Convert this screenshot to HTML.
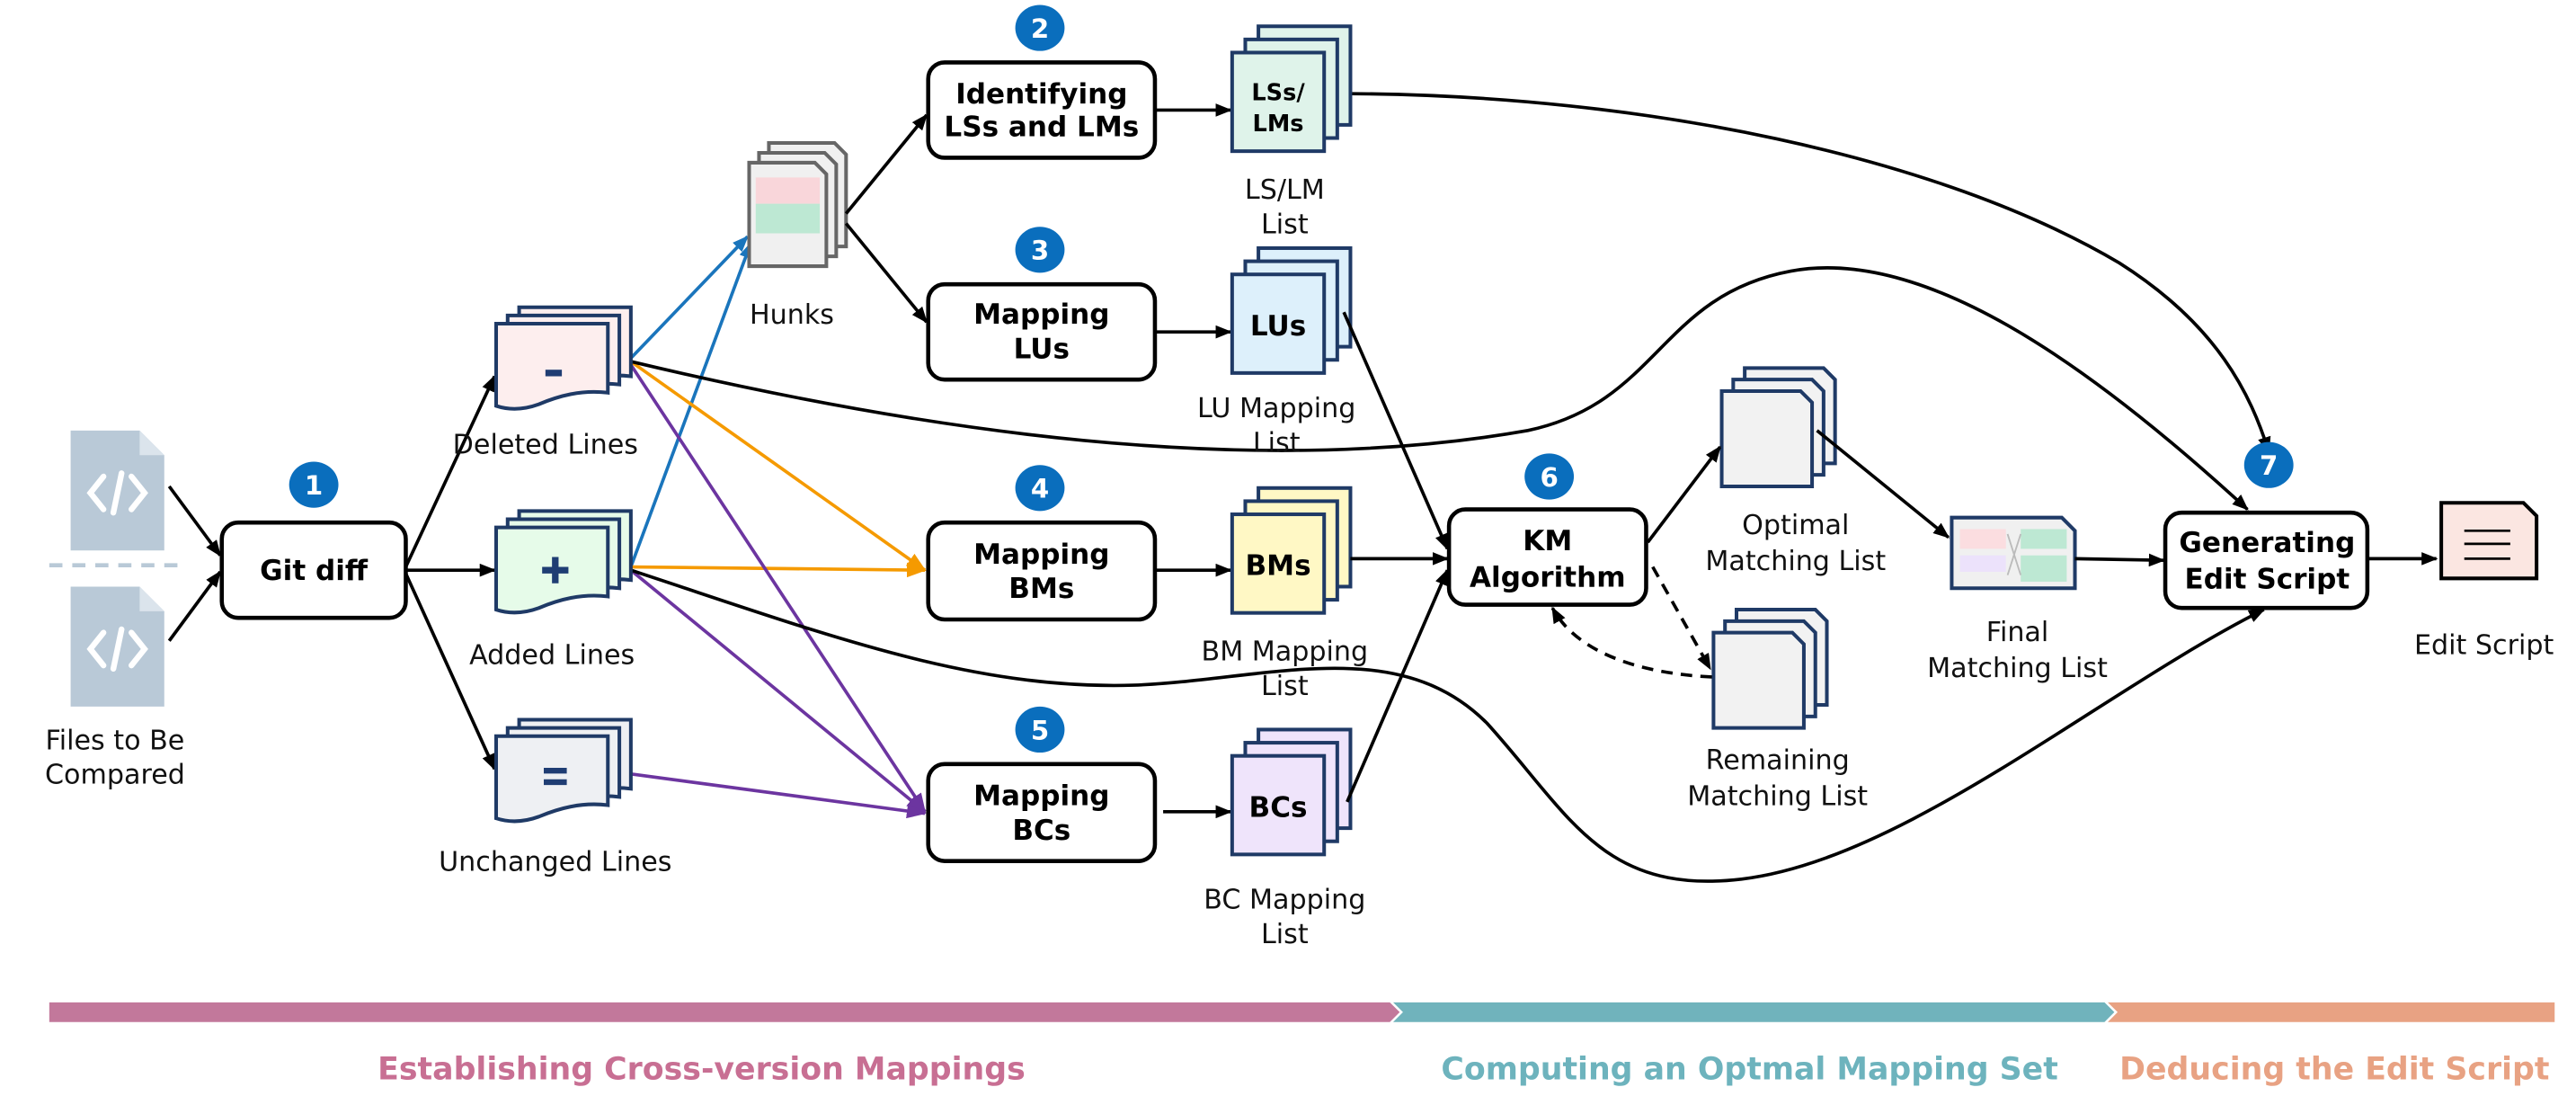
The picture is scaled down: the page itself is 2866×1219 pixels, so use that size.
<!DOCTYPE html>
<html><head><meta charset="utf-8"><style>
html,body{margin:0;padding:0;background:#fff;}
svg{display:block;}
text{font-family:"DejaVu Sans","Liberation Sans",sans-serif;}
.lbl{font-size:16.5px;fill:#111;text-anchor:middle;}
.bx{fill:#fff;stroke:#000;stroke-width:2.5;}
.bt{font-size:17px;font-weight:bold;text-anchor:middle;fill:#000;}
.bd{fill:#0a6ebd;}
.bdt{fill:#fff;font-size:16px;font-weight:bold;text-anchor:middle;}
.ar{fill:none;stroke:#000;stroke-width:2;}
.dk{stroke:#1f3a66;stroke-width:2.2;}
</style></head><body>
<svg width="2866" height="1219" viewBox="0 0 1568 667" preserveAspectRatio="none" xmlns="http://www.w3.org/2000/svg">
<defs>
<marker id="ak" markerWidth="10" markerHeight="8" refX="9" refY="4" orient="auto" markerUnits="userSpaceOnUse"><path d="M0,0 L10,4 L0,8 Z" fill="#000"/></marker>
<marker id="ao" markerWidth="12" markerHeight="9" refX="11" refY="4.5" orient="auto" markerUnits="userSpaceOnUse"><path d="M0,0 L12,4.5 L0,9 Z" fill="#f59a00"/></marker>
<marker id="ap" markerWidth="12" markerHeight="9" refX="11" refY="4.5" orient="auto" markerUnits="userSpaceOnUse"><path d="M0,0 L12,4.5 L0,9 Z" fill="#6c35a0"/></marker>
<marker id="ab" markerWidth="10" markerHeight="8" refX="9" refY="4" orient="auto" markerUnits="userSpaceOnUse"><path d="M0,0 L10,4 L0,8 Z" fill="#1a75bc"/></marker>
<path id="ld" d="M0,0 H68 V42 C52,40 38,44 26,49 C15,53 6,52 0,50 Z"/>
<path id="fd" d="M0,0 H48 L55,7 V58 H0 Z"/>
</defs>

<!-- file icons -->
<g fill="#b9c9d7">
<path d="M43,262 H85 L100,277 V335 H43 Z"/>
<path d="M43,357 H85 L100,372 V430 H43 Z"/>
</g>
<path d="M85,262 L100,277 H85 Z M85,357 L100,372 H85 Z" fill="#dbe4ec"/>
<g stroke="#fff" stroke-width="3.5" fill="none" stroke-linecap="round">
<path d="M63,290 L55,300 L63,310 M80,290 L88,300 L80,310 M74,288 L69,312"/>
<path d="M63,385 L55,395 L63,405 M80,385 L88,395 L80,405 M74,383 L69,407"/>
</g>
<line x1="30" y1="344" x2="112" y2="344" stroke="#b9c9d7" stroke-width="2.5" stroke-dasharray="8,6"/>
<text class="lbl" x="70" y="456">Files to Be</text>
<text class="lbl" x="70" y="477">Compared</text>
<line class="ar" x1="103" y1="296" x2="134" y2="338" marker-end="url(#ak)"/>
<line class="ar" x1="103" y1="390" x2="134" y2="348" marker-end="url(#ak)"/>

<!-- Git diff -->
<rect class="bx" x="135" y="318" width="112" height="58" rx="10"/>
<text class="bt" x="191" y="353">Git diff</text>
<ellipse class="bd" cx="191" cy="295" rx="15" ry="14"/><text class="bdt" x="191" y="301">1</text>
<line class="ar" x1="247" y1="345" x2="301" y2="229" marker-end="url(#ak)"/>
<line class="ar" x1="247" y1="347" x2="301" y2="347" marker-end="url(#ak)"/>
<line class="ar" x1="247" y1="349" x2="301" y2="468" marker-end="url(#ak)"/>

<!-- colored lines -->
<line x1="384" y1="218" x2="455" y2="144" stroke="#1a75bc" stroke-width="2" marker-end="url(#ab)"/>
<line x1="384" y1="345" x2="457" y2="148" stroke="#1a75bc" stroke-width="2" marker-end="url(#ab)"/>
<line x1="384" y1="220" x2="563" y2="347" stroke="#f59a00" stroke-width="2" marker-end="url(#ao)"/>
<line x1="384" y1="345" x2="563" y2="347" stroke="#f59a00" stroke-width="2" marker-end="url(#ao)"/>
<line x1="384" y1="222" x2="563" y2="494" stroke="#6c35a0" stroke-width="2" marker-end="url(#ap)"/>
<line x1="384" y1="347" x2="563" y2="494" stroke="#6c35a0" stroke-width="2" marker-end="url(#ap)"/>
<line x1="384" y1="471" x2="563" y2="495" stroke="#6c35a0" stroke-width="2" marker-end="url(#ap)"/>

<!-- long curves -->
<path class="ar" d="M384,220 C560,262 760,292 930,262 C1010,245 1010,180 1090,165 C1170,150 1270,220 1368,310" marker-end="url(#ak)"/>
<path class="ar" d="M384,347 C500,385 590,420 690,417 C770,414 850,385 905,440 C955,495 975,545 1060,535 C1160,523 1280,420 1378,371" marker-end="url(#ak)"/>
<path class="ar" d="M822,57 C1000,58 1180,95 1290,160 C1350,198 1370,240 1381,275" marker-end="url(#ak)"/>

<!-- line docs -->
<g class="dk">
<g transform="translate(302,197)" fill="#fdeeee"><use href="#ld" x="14" y="-10"/><use href="#ld" x="7" y="-5"/><use href="#ld"/></g>
<g transform="translate(302,321)" fill="#e6fbe9"><use href="#ld" x="14" y="-10"/><use href="#ld" x="7" y="-5"/><use href="#ld"/></g>
<g transform="translate(302,448)" fill="#eef0f3"><use href="#ld" x="14" y="-10"/><use href="#ld" x="7" y="-5"/><use href="#ld"/></g>
</g>
<rect x="332" y="225" width="10" height="4" fill="#1f3d73"/>
<path d="M338,339 V355 M330,347 H346" stroke="#1f3d73" stroke-width="4"/>
<path d="M331,469 H345 M331,476 H345" stroke="#1f3d73" stroke-width="3.5"/>
<text class="lbl" x="332" y="276">Deleted Lines</text>
<text class="lbl" x="336" y="404">Added Lines</text>
<text class="lbl" x="338" y="530">Unchanged Lines</text>

<!-- hunks -->
<g stroke="#666" stroke-width="2.2" fill="#f0f0f0">
<path d="M468,87 H508 L515,94 V150 H468 Z"/>
<path d="M462,93 H502 L509,100 V156 H462 Z"/>
<path d="M456,99 H496 L503,106 V162 H456 Z"/>
</g>
<rect x="460" y="108" width="39" height="16" fill="#f9d6da"/>
<rect x="460" y="124" width="39" height="18" fill="#bde8d3"/>
<text class="lbl" x="482" y="197">Hunks</text>
<line class="ar" x1="515" y1="130" x2="564" y2="70" marker-end="url(#ak)"/>
<line class="ar" x1="515" y1="136" x2="564" y2="196" marker-end="url(#ak)"/>

<!-- boxes 2-5 -->
<rect class="bx" x="565" y="38" width="138" height="58" rx="10"/>
<text class="bt" x="634" y="63">Identifying</text><text class="bt" x="634" y="83">LSs and LMs</text>
<ellipse class="bd" cx="633" cy="17" rx="15" ry="14"/><text class="bdt" x="633" y="23">2</text>
<rect class="bx" x="565" y="173" width="138" height="58" rx="10"/>
<text class="bt" x="634" y="197">Mapping</text><text class="bt" x="634" y="218">LUs</text>
<ellipse class="bd" cx="633" cy="152" rx="15" ry="14"/><text class="bdt" x="633" y="158">3</text>
<rect class="bx" x="565" y="318" width="138" height="59" rx="10"/>
<text class="bt" x="634" y="343">Mapping</text><text class="bt" x="634" y="364">BMs</text>
<ellipse class="bd" cx="633" cy="297" rx="15" ry="14"/><text class="bdt" x="633" y="303">4</text>
<rect class="bx" x="565" y="465" width="138" height="59" rx="10"/>
<text class="bt" x="634" y="490">Mapping</text><text class="bt" x="634" y="511">BCs</text>
<ellipse class="bd" cx="633" cy="444" rx="15" ry="14"/><text class="bdt" x="633" y="450">5</text>

<line class="ar" x1="703" y1="67" x2="749" y2="67" marker-end="url(#ak)"/>
<line class="ar" x1="703" y1="202" x2="749" y2="202" marker-end="url(#ak)"/>
<line class="ar" x1="703" y1="347" x2="749" y2="347" marker-end="url(#ak)"/>
<line class="ar" x1="708" y1="494" x2="749" y2="494" marker-end="url(#ak)"/>

<!-- square doc stacks -->
<g class="dk">
<g fill="#dff3ea"><rect x="766" y="16" width="56" height="60"/><rect x="758" y="24" width="56" height="60"/><rect x="750" y="32" width="56" height="60"/></g>
<g fill="#ddf0fb"><rect x="766" y="151" width="56" height="60"/><rect x="758" y="159" width="56" height="60"/><rect x="750" y="167" width="56" height="60"/></g>
<g fill="#fff8c5"><rect x="766" y="297" width="56" height="60"/><rect x="758" y="305" width="56" height="60"/><rect x="750" y="313" width="56" height="60"/></g>
<g fill="#efe4fb"><rect x="766" y="444" width="56" height="60"/><rect x="758" y="452" width="56" height="60"/><rect x="750" y="460" width="56" height="60"/></g>
</g>
<text class="bt" x="778" y="61" style="font-size:14px">LSs/</text><text class="bt" x="778" y="80" style="font-size:14px">LMs</text>
<text class="bt" x="778" y="204">LUs</text>
<text class="bt" x="778" y="350">BMs</text>
<text class="bt" x="778" y="497">BCs</text>
<text class="lbl" x="782" y="121">LS/LM</text><text class="lbl" x="782" y="142">List</text>
<text class="lbl" x="777" y="254">LU Mapping</text><text class="lbl" x="777" y="275">List</text>
<text class="lbl" x="782" y="402">BM Mapping</text><text class="lbl" x="782" y="423">List</text>
<text class="lbl" x="782" y="553">BC Mapping</text><text class="lbl" x="782" y="574">List</text>

<line class="ar" x1="818" y1="190" x2="881" y2="334" marker-end="url(#ak)"/>
<line class="ar" x1="822" y1="340" x2="881" y2="340" marker-end="url(#ak)"/>
<line class="ar" x1="820" y1="488" x2="881" y2="347" marker-end="url(#ak)"/>

<!-- KM -->
<rect class="bx" x="882" y="310" width="120" height="58" rx="10"/>
<text class="bt" x="942" y="335">KM</text><text class="bt" x="942" y="357">Algorithm</text>
<ellipse class="bd" cx="943" cy="290" rx="15" ry="14"/><text class="bdt" x="943" y="296">6</text>

<g class="dk" fill="#f2f2f2">
<use href="#fd" x="1062" y="224"/><use href="#fd" x="1055" y="231"/><use href="#fd" x="1048" y="238"/>
<use href="#fd" x="1057" y="371"/><use href="#fd" x="1050" y="378"/><use href="#fd" x="1043" y="385"/>
</g>
<text class="lbl" x="1093" y="325">Optimal</text><text class="lbl" x="1093" y="347">Matching List</text>
<text class="lbl" x="1082" y="468">Remaining</text><text class="lbl" x="1082" y="490">Matching List</text>
<line class="ar" x1="1003" y1="330" x2="1047" y2="272" marker-end="url(#ak)"/>
<line class="ar" x1="1006" y1="345" x2="1041" y2="407" stroke-dasharray="7,5" marker-end="url(#ak)"/>
<path class="ar" d="M1042,412 C1000,410 960,398 945,370" stroke-dasharray="7,5" marker-end="url(#ak)"/>
<line class="ar" x1="1106" y1="262" x2="1186" y2="327" marker-end="url(#ak)"/>

<!-- final -->
<path d="M1188,315 H1255 L1263,323 V358 H1188 Z" fill="#f0f0f0" stroke="#1f3a66" stroke-width="2.2"/>
<rect x="1193" y="322" width="28" height="12" fill="#fbdde0"/>
<rect x="1193" y="338" width="28" height="10" fill="#ece2fb"/>
<rect x="1230" y="322" width="28" height="12" fill="#bde8d3"/>
<rect x="1230" y="338" width="28" height="16" fill="#bde8d3"/>
<path d="M1222,325 L1230,350 M1230,325 L1222,350" stroke="#bbb" stroke-width="1"/>
<text class="lbl" x="1228" y="390">Final</text><text class="lbl" x="1228" y="412">Matching List</text>
<line class="ar" x1="1263" y1="340" x2="1317" y2="341" marker-end="url(#ak)"/>

<!-- generating -->
<rect class="bx" x="1318" y="312" width="123" height="58" rx="10"/>
<text class="bt" x="1380" y="336">Generating</text><text class="bt" x="1380" y="358">Edit Script</text>
<ellipse class="bd" cx="1381" cy="283" rx="15" ry="14"/><text class="bdt" x="1381" y="289">7</text>
<line class="ar" x1="1441" y1="340" x2="1483" y2="340" marker-end="url(#ak)"/>
<path d="M1486,306 H1536 L1544,314 V352 H1486 Z" fill="#fbe6e1" stroke="#000" stroke-width="2.2"/>
<path d="M1500,323 H1528 M1500,331 H1528 M1500,340 H1528" stroke="#000" stroke-width="1.5"/>
<text class="lbl" x="1512" y="398">Edit Script</text>

<!-- bottom bar -->
<path d="M30,610 H846 L852,616 L846,622 H30 Z" fill="#c2789b"/>
<path d="M848,610 H1281 L1287,616 L1281,622 H848 L854,616 Z" fill="#70b3bc"/>
<path d="M1283,610 H1555 V622 H1283 L1289,616 Z" fill="#e8a283"/>
<g font-weight="bold" font-size="19" text-anchor="middle">
<text x="427" y="657" fill="#c86f93">Establishing Cross-version Mappings</text>
<text x="1065" y="657" fill="#6db3bd">Computing an Optmal Mapping Set</text>
<text x="1421" y="657" fill="#e8a283">Deducing the Edit Script</text>
</g>
</svg>
</body></html>
